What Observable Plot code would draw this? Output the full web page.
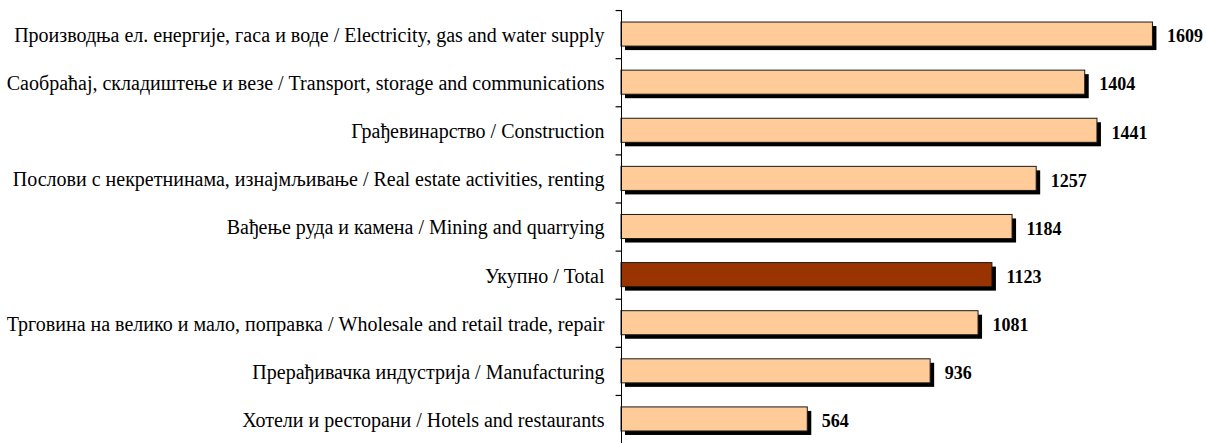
<!DOCTYPE html>
<html>
<head>
<meta charset="utf-8">
<script src="https://cdn.jsdelivr.net/npm/d3@7"></script>
<script src="https://cdn.jsdelivr.net/npm/@observablehq/plot@0.6"></script>
<style>
  html, body { margin: 0; padding: 0; background: #fff; }
  svg { display: block; }
</style>
</head>
<body>
<div id="chart"></div>
<script>
const categories = [
  "Производња ел. енергије, гаса и воде / Electricity, gas and water supply",
  "Саобраћај, складиштење и везе / Transport, storage and communications",
  "Грађевинарство / Construction",
  "Послови с некретнинама, изнајмљивање / Real estate activities, renting",
  "Вађење руда и камена / Mining and quarrying",
  "Укупно / Total",
  "Трговина на велико и мало, поправка / Wholesale and retail trade, repair",
  "Прерађивачка индустрија / Manufacturing",
  "Хотели и ресторани / Hotels and restaurants"
];
const values = [1609, 1404, 1441, 1257, 1184, 1123, 1081, 936, 564];
const highlight = "Укупно / Total";

const data = categories.map((c, i) => ({category: c, value: values[i]}));

const chart = Plot.plot({
  width: 1206,
  height: 443,
  marginLeft: 621,
  marginRight: 23.5,
  marginTop: 10,
  marginBottom: 0,
  style: {fontFamily: "'Liberation Serif', 'Times New Roman', serif", background: "#fff"},
  x: {domain: [0, 1700], axis: null},
  y: {domain: categories, paddingInner: 0.5, paddingOuter: 0.25, round: false, axis: null, label: null},
  marks: [
    Plot.barX(data, {y: "category", x: "value", fill: "#000", dx: 4, dy: 4}),
    Plot.barX(data, {
      y: "category", x: "value",
      fill: d => d.category === highlight ? "#993300" : "#FFCC99",
      stroke: "#1a1a1a", strokeWidth: 1
    }),
    Plot.text(data, {
      y: "category", x: "value", text: d => String(d.value),
      textAnchor: "start", dx: 14, dy: 2,
      fontWeight: "bold", fontSize: 18, fill: "#000"
    }),
    Plot.axisY({tickSize: 0, tickPadding: 17, fontSize: 20, fill: "#000", label: null, dy: 1}),
    Plot.ruleY(categories, {y: d => d, x1: -18, x2: 0, dx: 0.5, dy: -24, stroke: "#000", strokeWidth: 1.2}),
    Plot.ruleX([0], {stroke: "#000"})
  ]
});
document.getElementById("chart").appendChild(chart);
</script>
</body>
</html>
